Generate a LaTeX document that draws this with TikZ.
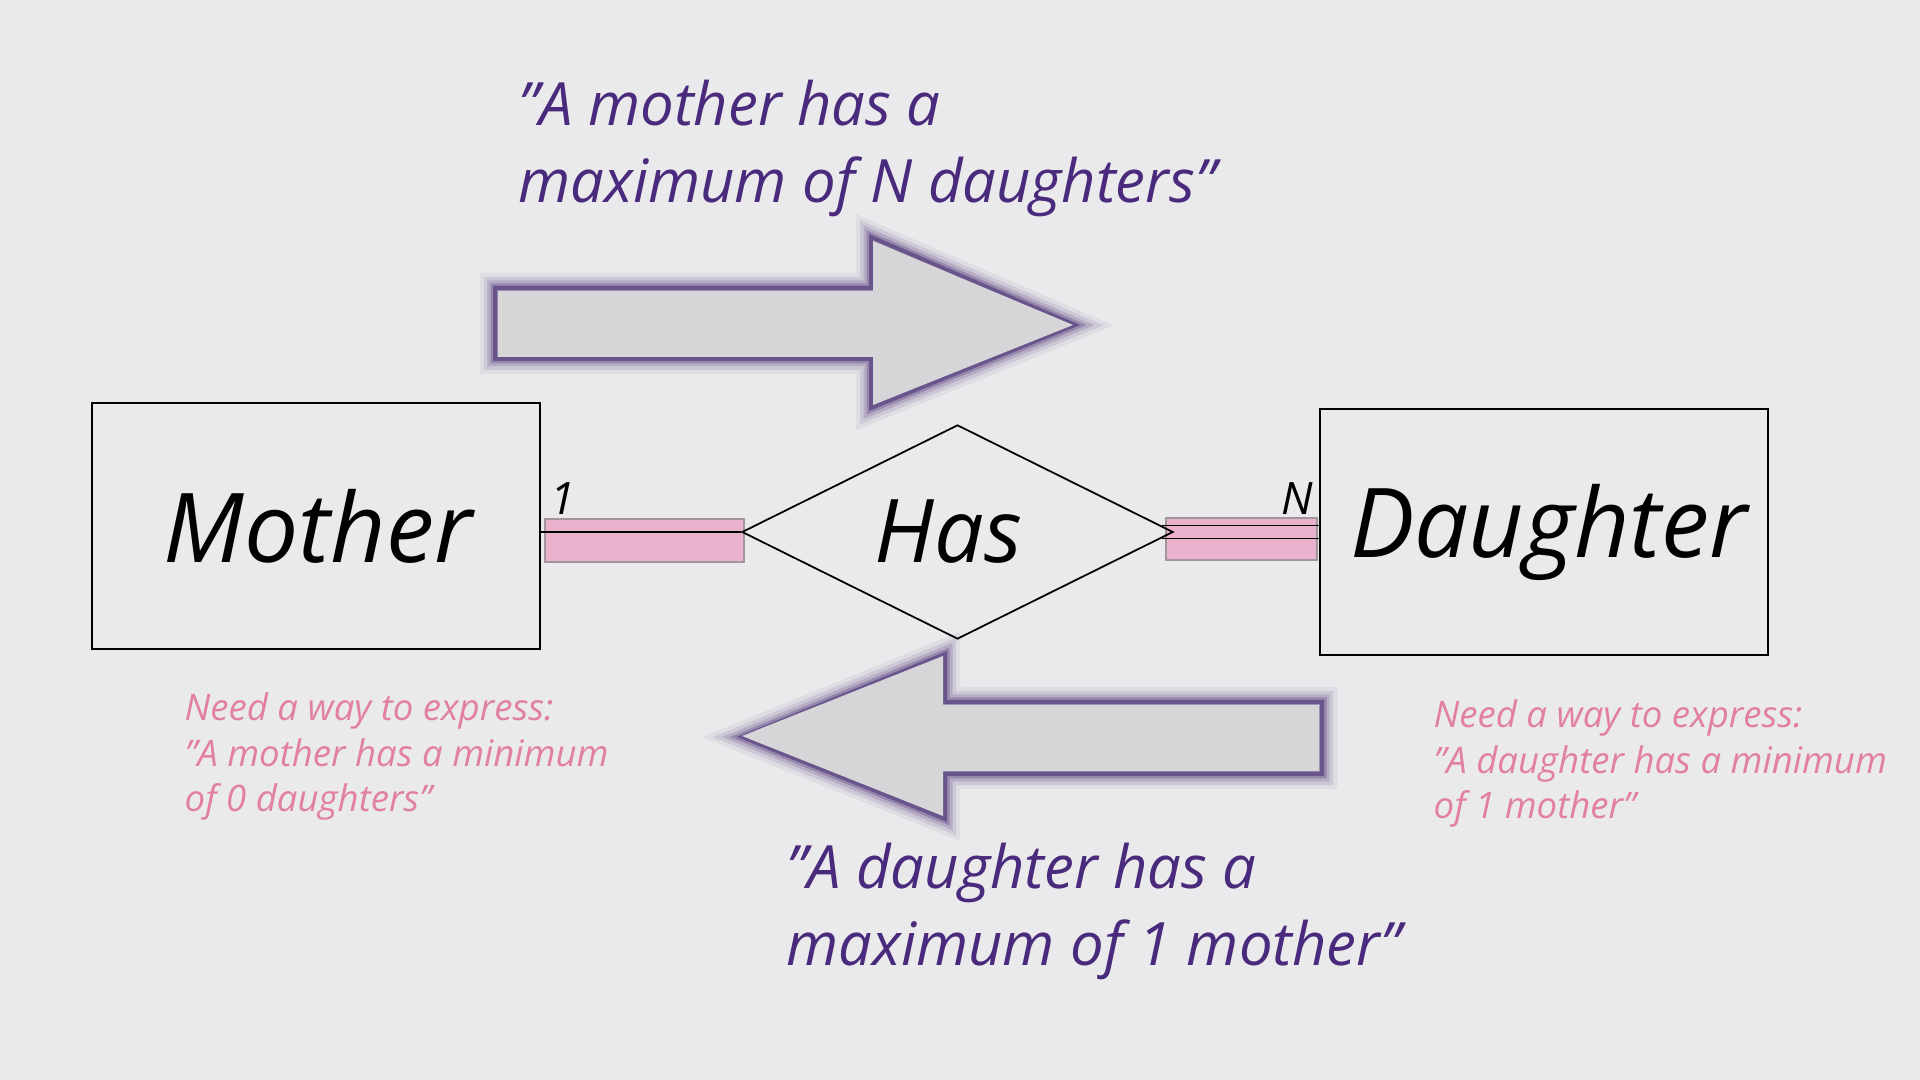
\documentclass[tikz,border=0pt]{standalone}
\usepackage{fontspec}
\setmainfont{Open Sans}
\usetikzlibrary{shapes.geometric,calc}
\definecolor{bg}{RGB}{234,234,236}
\definecolor{txtpurple}{RGB}{74,42,124}
\definecolor{glowc}{RGB}{52,22,100}
\definecolor{notepink}{RGB}{226,128,164}
\definecolor{barpink}{RGB}{234,178,204}
\definecolor{bargrey}{RGB}{160,150,156}
\definecolor{arrowgrey}{RGB}{214,214,216}
\tikzset{
  entity/.style={draw=black, line width=0.6pt, inner sep=0pt, minimum width=4.48cm, minimum height=2.46cm,
    font=\fontsize{27.4}{32}\selectfont\itshape},
  relation/.style={diamond, draw=black, line width=0.5pt, inner sep=0pt, minimum width=4.31cm, minimum height=2.14cm},
  relationtext/.style={font=\fontsize{25}{30}\selectfont\itshape, inner sep=0pt, xshift=-0.09cm},
  link/.style={draw=black, line width=0.5pt},
  cardbar/.style={fill=barpink, draw=bargrey, line width=0.5pt},
  card/.style={inner sep=0pt, font=\fontsize{12.7}{15}\selectfont\itshape},
  quote/.style={inner sep=0pt, anchor=north west, align=left, text=txtpurple, font=\fontsize{17}{21.9}\selectfont\itshape},
  note/.style={inner sep=0pt, anchor=north west, align=left, text=notepink, font=\fontsize{10.4}{13}\selectfont\itshape},
  arrowbody/.style={fill=arrowgrey},
}
\begin{document}
\begin{tikzpicture}[x=0.01cm, y=-0.01cm]
\fill[bg] (0,0) rectangle (1920,1080);
\useasboundingbox (0,0) rectangle (1920,1080);

% top arrow (glow + body)
\foreach \w/\o in {30/0.06,22/0.1,15/0.15,9/0.24,4/0.45} {
  \draw[glowc, line width=\w*0.2845pt, opacity=\o, line join=miter]
    (495,288) -- (871,288) -- (871,237) -- (1075,325) -- (871,408) -- (871,359) -- (495,359) -- cycle;
}
\path[arrowbody]
  (498,291) -- (873,291) -- (873,241) -- (1073,325) -- (873,405) -- (873,357) -- (498,357) -- cycle;

% bottom arrow (glow + body)
\foreach \w/\o in {30/0.06,22/0.1,15/0.15,9/0.24,4/0.45} {
  \draw[glowc, line width=\w*0.2845pt, opacity=\o, line join=miter]
    (742,737) -- (945,654) -- (945,702) -- (1322,702) -- (1322,774) -- (945,774) -- (945,819) -- cycle;
}
\path[arrowbody]
  (742,736) -- (943,656) -- (943,705) -- (1319,705) -- (1319,771) -- (943,771) -- (943,816) -- cycle;

% cardinality bars
\path[cardbar] (545,519) rectangle (744,562);
\path[cardbar] (1166,518) rectangle (1317,560);

% entities and relationship
\node[entity] (mother) at (316,526) {\hspace*{0.04cm}Mother};
\node[entity] (daughter) at (1544,532) {\hspace*{0.1cm}Daughter};
\node[relation, label={[relationtext]center:Has}] (has) at (957.5,532) {};

% connectors
\draw[link] (has.west) -- (has.west -| mother.east);
\draw[link] ($(has.east)+(-12,-6.5)$) -- ($(has.east -| daughter.west)+(0,-6.5)$);
\draw[link] ($(has.east)+(-12,6.5)$) -- ($(has.east -| daughter.west)+(0,6.5)$);

% cardinality labels
\node[card] (c1) at (563,499) {1};
\node[card] (cN) at (1297,499) {N};

% quotes
\node[quote] (q1) at (518,79) {"A mother has a\\maximum of N daughters"};
\node[quote] (q2) at (786,842) {"A daughter has a\\maximum of 1 mother"};

% notes
\node[note] (n1) at (184,692) {Need a way to express:\\"A mother has a minimum\\of 0 daughters"};
\node[note] (n2) at (1433,699) {Need a way to express:\\"A daughter has a minimum\\of 1 mother"};
\end{tikzpicture}
\end{document}
